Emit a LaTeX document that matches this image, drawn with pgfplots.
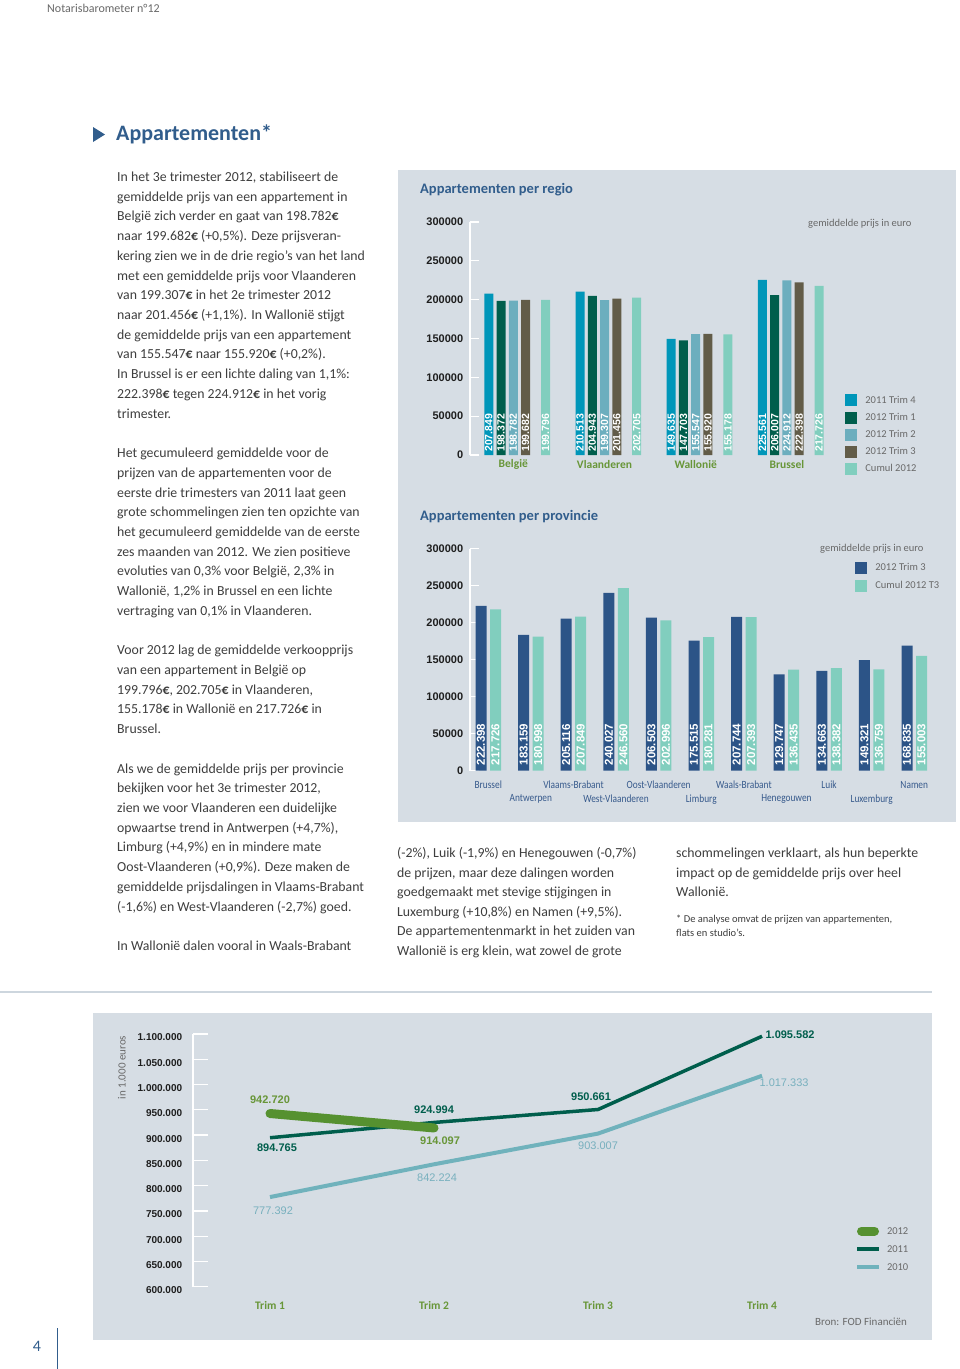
\documentclass[border=0pt]{standalone}
\usepackage{fontspec}
\setmainfont{Carlito}
\newfontfamily\lib{Liberation Sans}
\usepackage{pgfplots}
\pgfplotsset{compat=1.18}
\definecolor{panel}{RGB}{214,221,228}
\definecolor{tblue}{RGB}{49,93,140}
\definecolor{bodyt}{RGB}{62,62,62}
\definecolor{greyt}{RGB}{105,105,105}
\definecolor{tickt}{RGB}{30,30,30}
\definecolor{catgreen}{RGB}{104,150,56}
\definecolor{cA}{RGB}{0,150,185}
\definecolor{cB}{RGB}{0,94,76}
\definecolor{cC}{RGB}{108,174,190}
\definecolor{cD}{RGB}{98,92,72}
\definecolor{cE}{RGB}{129,206,190}
\definecolor{pdark}{RGB}{44,84,135}
\definecolor{provblue}{RGB}{55,90,140}
\definecolor{l12}{RGB}{86,145,48}
\definecolor{l11}{RGB}{0,94,76}
\definecolor{l10}{RGB}{112,178,188}
\definecolor{l10t}{RGB}{120,176,190}
\definecolor{sepl}{RGB}{205,214,222}
\newcommand{\eu}{\textbf{€}}
\newcommand{\coltext}[5]{\node[anchor=base west, inner sep=0pt, text=bodyt, font=\fontsize{#3}{#4}\selectfont] at (#1,#2) {\begin{tabular}[t]{@{}l@{}}#5\end{tabular}};}
\pgfplotsset{
  barlabels/.style={
    nodes near coords={\pgfmathprintnumber[fixed,precision=0,1000 sep={.},assume math mode=true]{\pgfplotspointmeta}},
    point meta=y,
    visualization depends on={y \as \rawy},
    every node near coord/.append style={shift={(axis direction cs:0,-\rawy)}, rotate=90, anchor=west, inner xsep=#1, inner ysep=0pt, text=white},
  },
  linelabels/.style={
    nodes near coords={\pgfmathprintnumber[fixed,precision=0,1000 sep={.},assume math mode=true]{\pgfplotspointmeta}},
    point meta=y,
    visualization depends on={value \thisrow{dx} \as \dx},
    visualization depends on={value \thisrow{dy} \as \dy},
    every node near coord/.append style={anchor=center, inner sep=0pt, xshift=\dx pt, yshift=\dy pt},
  },
}
\begin{document}
\begin{tikzpicture}
\useasboundingbox (0,0) rectangle (960pt,-1369pt);
\begin{scope}[x=1pt,y=1pt]
\fill[white] (0,0) rectangle (960,-1369);
\fill[panel] (398,-170) rectangle (956,-822);
\fill[panel] (93,-1013) rectangle (932,-1340);
\draw[sepl, line width=1.5pt] (0,-992) -- (932,-992);
% header
\node[anchor=west, inner sep=0pt, text=greyt, font=\fontsize{12}{14}\selectfont] at (47,-8) {Notarisbarometer n°12};
\fill[tblue] (93,-127) -- (93,-142) -- (105,-134.5) -- cycle;
\node[anchor=west, inner sep=0pt, text=tblue, font=\bfseries\fontsize{22}{26}\selectfont] at (116,-134) {Appartementen*};
% left column
\coltext{117}{-181.5}{13.8}{19.72}{In het 3e trimester 2012, stabiliseert de\\
gemiddelde prijs van een appartement in\\
België zich verder en gaat van 198.782\eu\\
naar 199.682\eu{} (+0,5\%). Deze prijsveran-\\
kering zien we in de drie regio's van het land\\
met een gemiddelde prijs voor Vlaanderen\\
van 199.307\eu{} in het 2e trimester 2012\\
naar 201.456\eu{} (+1,1\%). In Wallonië stijgt\\
de gemiddelde prijs van een appartement\\
van 155.547\eu{} naar 155.920\eu{} (+0,2\%).\\
In Brussel is er een lichte daling van 1,1\%:\\
222.398\eu{} tegen 224.912\eu{} in het vorig\\
trimester.\\
\\
Het gecumuleerd gemiddelde voor de\\
prijzen van de appartementen voor de\\
eerste drie trimesters van 2011 laat geen\\
grote schommelingen zien ten opzichte van\\
het gecumuleerd gemiddelde van de eerste\\
zes maanden van 2012. We zien positieve\\
evoluties van 0,3\% voor België, 2,3\% in\\
Wallonië, 1,2\% in Brussel en een lichte\\
vertraging van 0,1\% in Vlaanderen.\\
\\
Voor 2012 lag de gemiddelde verkoopprijs\\
van een appartement in België op\\
199.796\eu, 202.705\eu{} in Vlaanderen,\\
155.178\eu{} in Wallonië en 217.726\eu{} in\\
Brussel.\\
\\
Als we de gemiddelde prijs per provincie\\
bekijken voor het 3e trimester 2012,\\
zien we voor Vlaanderen een duidelijke\\
opwaartse trend in Antwerpen (+4,7\%),\\
Limburg (+4,9\%) en in mindere mate\\
Oost-Vlaanderen (+0,9\%). Deze maken de\\
gemiddelde prijsdalingen in Vlaams-Brabant\\
(-1,6\%) en West-Vlaanderen (-2,7\%) goed.\\
\\
In Wallonië dalen vooral in Waals-Brabant}
\coltext{397}{-857.5}{13.8}{19.6}{(-2\%), Luik (-1,9\%) en Henegouwen (-0,7\%)\\
de prijzen, maar deze dalingen worden\\
goedgemaakt met stevige stijgingen in\\
Luxemburg (+10,8\%) en Namen (+9,5\%).\\
De appartementenmarkt in het zuiden van\\
Wallonië is erg klein, wat zowel de grote}
\coltext{676}{-857.5}{13.8}{19.6}{schommelingen verklaart, als hun beperkte\\
impact op de gemiddelde prijs over heel\\
Wallonië.}
\coltext{676}{-922.5}{10.5}{14}{* De analyse omvat de prijzen van appartementen,\\
flats en studio's.}
% chart titles and notes
\node[anchor=west, inner sep=0pt, text=tblue, font=\bfseries\fontsize{14.5}{17}\selectfont] at (420,-190) {Appartementen per regio};
\node[anchor=west, inner sep=0pt, text=tblue, font=\bfseries\fontsize{14.5}{17}\selectfont] at (420,-517) {Appartementen per provincie};
\node[anchor=west, inner sep=0pt, text=greyt, font=\fontsize{10.5}{12}\selectfont] at (808,-224) {gemiddelde prijs in euro};
\node[anchor=west, inner sep=0pt, text=greyt, font=\fontsize{10.5}{12}\selectfont] at (820,-549) {gemiddelde prijs in euro};
\node[rotate=90, inner sep=0pt, text=greyt, font=\fontsize{11}{13}\selectfont] at (122,-1067.5) {in 1.000 euros};
\node[anchor=west, inner sep=0pt, text=greyt, font=\fontsize{11}{13}\selectfont] at (815,-1322) {Bron: FOD Financiën};
% page number
\node[anchor=center, inner sep=0pt, text=tblue, font=\fontsize{16}{18}\selectfont] at (37,-1346) {4};
\draw[tblue, line width=1pt] (57,-1328) -- (57,-1369);
\end{scope}

% ---------------- Chart 1: per regio ----------------
\begin{axis}[
  at={(470pt,-455pt)}, anchor=south west,
  scale only axis, width=364pt, height=233pt,
  xmin=-0.4748, xmax=3.5164, ymin=0, ymax=300000,
  enlargelimits=false, clip=false, scaled ticks=false,
  axis line style={draw=none},
  xtick={0,1,2,3}, xticklabels={België,Vlaanderen,Wallonië,Brussel},
  xtick style={draw=none},
  xticklabel style={font=\bfseries\fontsize{11.5}{13}\selectfont, text=catgreen, anchor=center, yshift=-0.5pt},
  ytick={0,50000,100000,150000,200000,250000,300000},
  yticklabels={0,50000,100000,150000,200000,250000,300000},
  ytick pos=left, tick align=inside, major tick length=9pt,
  ytick style={white, line width=1.3pt},
  yticklabel style={font=\lib\bfseries\fontsize{11}{13}\selectfont, text=tickt, xshift=-3.3pt},
  ybar, bar width=9pt,
  barlabels=3pt,
  every node near coord/.append style={font=\lib\bfseries\fontsize{10.5}{12}\selectfont},
  legend style={at={(1.0302,0.2597)}, anchor=north west, draw=none, fill=none, inner sep=0pt, outer sep=0pt, row sep=5.75pt, font=\fontsize{10.5}{12}\selectfont, text=greyt, nodes={inner sep=0pt, text height=8pt, text depth=2pt}, /tikz/every odd column/.append style={column sep=9pt}},
  legend cell align=left,
]
\draw[white, line width=1.3pt] (rel axis cs:0,0) -- (rel axis cs:0,1);
\addplot[fill=cA, draw=none, bar shift=-24.5pt, forget plot] coordinates {(0,207849) (1,210513) (2,149635) (3,225561)};
\addplot[fill=cB, draw=none, bar shift=-12.25pt, forget plot] coordinates {(0,198372) (1,204943) (2,147703) (3,206007)};
\addplot[fill=cC, draw=none, bar shift=0pt, forget plot] coordinates {(0,198782) (1,199307) (2,155547) (3,224912)};
\addplot[fill=cD, draw=none, bar shift=12.25pt, forget plot] coordinates {(0,199682) (1,201456) (2,155920) (3,222398)};
\addplot[fill=cE, draw=none, bar shift=32.2pt, forget plot] coordinates {(0,199796) (1,202705) (2,155178) (3,217726)};
\addlegendimage{legend image code/.code={\fill[cA] (0pt,-5.5pt) rectangle (11pt,5.5pt);}}
\addlegendentry{2011 Trim 4}
\addlegendimage{legend image code/.code={\fill[cB] (0pt,-5.5pt) rectangle (11pt,5.5pt);}}
\addlegendentry{2012 Trim 1}
\addlegendimage{legend image code/.code={\fill[cC] (0pt,-5.5pt) rectangle (11pt,5.5pt);}}
\addlegendentry{2012 Trim 2}
\addlegendimage{legend image code/.code={\fill[cD] (0pt,-5.5pt) rectangle (11pt,5.5pt);}}
\addlegendentry{2012 Trim 3}
\addlegendimage{legend image code/.code={\fill[cE] (0pt,-5.5pt) rectangle (11pt,5.5pt);}}
\addlegendentry{Cumul 2012}
\end{axis}

% ---------------- Chart 2: per provincie ----------------
\begin{axis}[
  at={(470pt,-770.5pt)}, anchor=south west,
  scale only axis, width=470pt, height=222pt,
  xmin=-0.4284, xmax=10.6045, ymin=0, ymax=300000,
  enlargelimits=false, clip=false, scaled ticks=false,
  axis line style={draw=none},
  xtick={0,1,2,3,4,5,6,7,8,9,10},
  xticklabels={Brussel,Antwerpen,Vlaams-Brabant,West-Vlaanderen,Oost-Vlaanderen,Limburg,Waals-Brabant,Henegouwen,Luik,Luxemburg,Namen},
  xtick style={draw=none},
  xticklabel style={font=\fontsize{11}{13}\selectfont, text=provblue, anchor=center, yshift={-5pt-14.7pt*mod(\ticknum,2)}, xscale=0.85},
  ytick={0,50000,100000,150000,200000,250000,300000},
  yticklabels={0,50000,100000,150000,200000,250000,300000},
  ytick pos=left, tick align=inside, major tick length=9pt,
  ytick style={white, line width=1.3pt},
  yticklabel style={font=\lib\bfseries\fontsize{11}{13}\selectfont, text=tickt, xshift=-3.3pt},
  ybar, bar width=11pt,
  barlabels=5pt,
  every node near coord/.append style={font=\lib\bfseries\fontsize{11.5}{13}\selectfont},
  legend style={at={(0.819,0.9414)}, anchor=north west, draw=none, fill=none, inner sep=0pt, outer sep=0pt, row sep=7pt, font=\fontsize{10.5}{12}\selectfont, text=greyt, nodes={inner sep=0pt, text height=8pt, text depth=2pt}, /tikz/every odd column/.append style={column sep=9pt}},
  legend cell align=left,
]
\draw[white, line width=1.3pt] (rel axis cs:0,0) -- (rel axis cs:0,1);
\addplot[fill=pdark, draw=none, bar shift=-7.25pt, forget plot] coordinates {(0,222398) (1,183159) (2,205116) (3,240027) (4,206503) (5,175515) (6,207744) (7,129747) (8,134663) (9,149321) (10,168835)};
\addplot[fill=cE, draw=none, bar shift=7.25pt, forget plot] coordinates {(0,217726) (1,180998) (2,207849) (3,246560) (4,202996) (5,180281) (6,207393) (7,136435) (8,138382) (9,136759) (10,155003)};
\addlegendimage{legend image code/.code={\fill[pdark] (0pt,-5.5pt) rectangle (11pt,5.5pt);}}
\addlegendentry{2012 Trim 3}
\addlegendimage{legend image code/.code={\fill[cE] (0pt,-5.5pt) rectangle (11pt,5.5pt);}}
\addlegendentry{Cumul 2012 T3}
\end{axis}

% ---------------- Chart 3: lines ----------------
\begin{axis}[
  at={(193pt,-1286.7pt)}, anchor=south west,
  scale only axis, width=727pt, height=252.7pt,
  xmin=0.5305, xmax=4.963, ymin=600000, ymax=1100000,
  enlargelimits=false, clip=false, scaled ticks=false,
  axis line style={draw=none},
  xtick={1,2,3,4}, xticklabels={Trim 1,Trim 2,Trim 3,Trim 4},
  xtick style={draw=none},
  xticklabel style={font=\bfseries\fontsize{11.5}{13}\selectfont, text=catgreen, anchor=center, yshift=-18.3pt},
  ytick={600000,650000,700000,750000,800000,850000,900000,950000,1000000,1050000,1100000},
  yticklabels={600.000,650.000,700.000,750.000,800.000,850.000,900.000,950.000,1.000.000,1.050.000,1.100.000},
  ytick pos=left, tick align=inside, major tick length=15pt,
  ytick style={white, line width=1.3pt},
  yticklabel style={font=\lib\bfseries\fontsize{10}{12}\selectfont, text=tickt, xshift=-7.3pt, yshift=-3.5pt},
  legend style={at={(0.9106,0.2402)}, anchor=north west, draw=none, fill=none, inner sep=0pt, outer sep=0pt, row sep=8pt, font=\fontsize{10.5}{12}\selectfont, text=greyt, nodes={inner sep=0pt, text height=8pt, text depth=2pt}, /tikz/every odd column/.append style={column sep=6pt}},
  legend cell align=left,
]
\draw[white, line width=1.3pt] (rel axis cs:0,0) -- (rel axis cs:0,1);
\addplot[l10, line width=4pt, mark=none, forget plot, linelabels,
  every node near coord/.append style={text=l10t, font=\lib\fontsize{11}{13}\selectfont}]
  table[x=x,y=y] {
x y dx dy
1 777392 3 -13.7
2 842224 3 -13
3 903007 0 -12.5
4 1017333 22 -7
};
\addplot[l11, line width=3.5pt, mark=none, forget plot, linelabels,
  every node near coord/.append style={text=l11, font=\lib\bfseries\fontsize{11}{13}\selectfont}]
  table[x=x,y=y] {
x y dx dy
1 894765 7 -9.5
2 924994 0 12.5
3 950661 -7 13
4 1095582 28 2
};
\addplot[l12, line width=9pt, line cap=round, mark=none, forget plot, linelabels,
  every node near coord/.append style={text=catgreen, font=\lib\bfseries\fontsize{11}{13}\selectfont}]
  table[x=x,y=y] {
x y dx dy
1 942720 0 13.5
2 914097 6 -13
};
\addlegendimage{legend image code/.code={\draw[l12, line width=9pt, line cap=round] (4.5pt,0pt) -- (17.5pt,0pt);}}
\addlegendentry{2012}
\addlegendimage{legend image code/.code={\draw[l11, line width=4pt] (0pt,0pt) -- (22pt,0pt);}}
\addlegendentry{2011}
\addlegendimage{legend image code/.code={\draw[l10, line width=4pt] (0pt,0pt) -- (22pt,0pt);}}
\addlegendentry{2010}
\end{axis}
\end{tikzpicture}
\end{document}
